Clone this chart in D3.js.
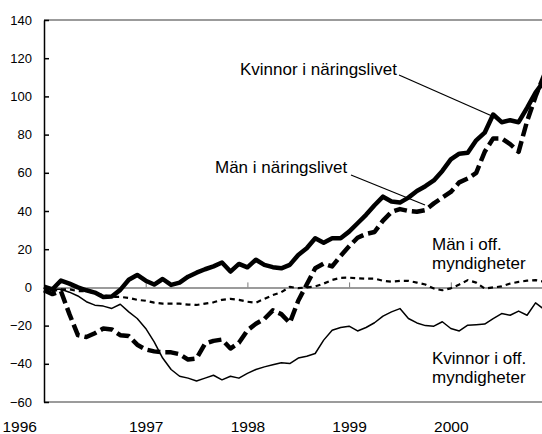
<!DOCTYPE html>
<html>
<head>
<meta charset="utf-8">
<script src="https://cdn.jsdelivr.net/npm/d3@7"></script>
<style>
  body { margin: 0; background: #fff; }
  svg { display: block; font-family: "Liberation Sans", Arial, sans-serif; }
</style>
</head>
<body>
<svg id="chart" width="542" height="434"></svg>
<script>
// monthly values, Jan 1996 - Dec 2000
const startYear = 1996;
const yearLabels = [1996, 1997, 1998, 1999, 2000];
const yTicks = [-60, -40, -20, 0, 20, 40, 60, 80, 100, 120, 140];

const kvinnorNaring = [0.4, -1, 3.6, 2, 0, -1.5, -2.7, -5, -4.8, -1.3,
  4, 6.5, 3.5, 1.5, 4.4, 1.3, 2.5, 5.6, 7.7, 9.5,
  11, 13, 8.3, 12.3, 10.5, 14.5, 11.8, 10.6, 10, 11.8,
  17, 20.5, 25.7, 23.4, 25.7, 25.7, 29.2, 33.6, 38, 43,
  47.5, 45, 44.4, 47, 50.5, 53, 56, 61, 67, 70,
  70.5, 77, 81, 90.5, 86.5, 87.5, 86.5, 94, 102, 108];

const manNaring = [-1.5, -3.5, -2, -14, -25, -26, -24, -21.5, -22, -25,
  -25.5, -30, -32.5, -33.5, -34, -34, -35, -37.8, -37.2, -29.5,
  -28, -27.3, -32, -29, -22.5, -19, -16.5, -12, -14, -18.6,
  -7, 1.5, 10, 12.5, 11, 16.5, 21.5, 26, 28, 29,
  35, 39.5, 41, 40, 39.6, 40.5, 44, 47, 50, 55,
  57, 60, 71, 78, 78, 75, 71, 87, 100, 111];

const manOff = [0, -2, -1, -1, -2, -2, -3, -4, -5, -5,
  -5.5, -6.5, -7, -8, -8.5, -8.5, -8.5, -9, -9.2, -8.5,
  -7.8, -6.5, -6, -6.5, -7.5, -8, -6, -4, -2.5, 0.3,
  -0.4, 0, 0.5, 2, 3.9, 5, 5.1, 4.8, 4.6, 4.6,
  3.5, 3, 3.4, 3.4, 2.5, 1.5, -0.6, -1.5, -0.5, 1.5,
  3.8, 2.5, -0.6, 0, 0.5, 2, 2.9, 3.5, 3.8, 3];

const kvinnorOff = [0, -1, -1, -2.5, -4.5, -7.5, -9.3, -9.8, -11, -8.8,
  -12.8, -16.3, -21.5, -28.5, -37, -43, -46.5, -47.5, -49, -47.5,
  -46, -48.4, -46.5, -47.5, -45, -43, -41.6, -40.5, -39.5, -39.9,
  -37, -36, -34.6, -27.6, -22.4, -21, -20.3, -22.8, -21, -18.5,
  -15, -12.8, -11.1, -16.3, -18.6, -20, -20.3, -18, -21.5, -22.8,
  -19.8, -19.5, -19.2, -16.3, -13.7, -14.6, -12.4, -14.6, -8.1, -11.5];

const svg = d3.select("#chart");

const x = d3.scaleLinear().domain([1996, 2001]).range([44, 552.5]);
const y = d3.scaleLinear().domain([-60, 140]).range([402, 20]);

// frame lines (top and bottom, gray)
svg.append("line")
    .attr("x1", x(1996)).attr("x2", 542)
    .attr("y1", y(140)).attr("y2", y(140))
    .attr("stroke", "#7a7a7a").attr("stroke-width", 1.5);
svg.append("line")
    .attr("x1", x(1996)).attr("x2", 542)
    .attr("y1", y(-60)).attr("y2", y(-60))
    .attr("stroke", "#7a7a7a").attr("stroke-width", 1.5);

// zero line with small year ticks
const zeroAxis = svg.append("g")
    .attr("transform", `translate(0,${y(0)})`)
    .call(d3.axisTop(x).tickValues(yearLabels.slice(1)).tickSize(5).tickSizeOuter(0).tickFormat(""));
zeroAxis.select(".domain").attr("stroke", "#7a7a7a").attr("stroke-width", 1.5);
zeroAxis.selectAll(".tick line").attr("stroke", "#7a7a7a");

// year labels at the bottom
const xAxis = svg.append("g")
    .attr("transform", `translate(0,${y(-60)})`)
    .call(d3.axisBottom(x).tickValues(yearLabels).tickSize(0).tickFormat(d3.format("d")));
xAxis.select(".domain").remove();
xAxis.selectAll("text")
    .attr("y", 30).attr("dy", null)
    .attr("font-size", "15.5px")
    .attr("font-family", "'Liberation Sans', Arial, sans-serif")
    .attr("fill", "#000");
// first label sits flush to the left edge
xAxis.selectAll(".tick").filter(d => d === 1996).select("text")
    .attr("text-anchor", "start").attr("x", -42);

// y axis
const yAxis = svg.append("g")
    .attr("transform", `translate(${x(1996)},0)`)
    .call(d3.axisLeft(y).tickValues(yTicks).tickSizeInner(-5).tickSizeOuter(0).tickPadding(12));
yAxis.select(".domain").attr("stroke", "#000").attr("stroke-width", 1.5);
yAxis.selectAll(".tick line").attr("stroke", "#000").attr("stroke-width", 1.5);
yAxis.selectAll("text")
    .attr("font-size", "13px")
    .attr("font-family", "'Liberation Sans', Arial, sans-serif")
    .attr("fill", "#000");

// series
const series = [
  { values: kvinnorOff, width: 1.5, dash: null },
  { values: manOff, width: 2.2, dash: "5,4" },
  { values: manNaring, width: 4.5, dash: "13,5" },
  { values: kvinnorNaring, width: 4.5, dash: null }
];

const line = d3.line()
    .x((d, i) => x(startYear + i / 12))
    .y(d => y(d));

series.forEach(s => {
  svg.append("path")
      .datum(s.values)
      .attr("d", line)
      .attr("fill", "none")
      .attr("stroke", "#000")
      .attr("stroke-width", s.width)
      .attr("stroke-dasharray", s.dash)
      .attr("stroke-linejoin", "round");
});

// labels
function label(lines, lx, ly) {
  const t = svg.append("text")
      .attr("font-size", "17px")
      .attr("fill", "#000");
  lines.forEach((l, j) => {
    t.append("tspan").attr("x", lx).attr("y", ly + j * 19).text(l);
  });
}
label(["Kvinnor i näringslivet"], 240, 75);
label(["Män i näringslivet"], 215, 173);
label(["Män i off.", "myndigheter"], 432, 250);
label(["Kvinnor i off.", "myndigheter"], 432, 364);

// pointer lines
svg.append("line")
    .attr("x1", 399).attr("y1", 75).attr("x2", 492).attr("y2", 116)
    .attr("stroke", "#000").attr("stroke-width", 1.3);
svg.append("line")
    .attr("x1", 351).attr("y1", 175).attr("x2", 425).attr("y2", 205)
    .attr("stroke", "#000").attr("stroke-width", 1.3);
</script>
</body>
</html>
